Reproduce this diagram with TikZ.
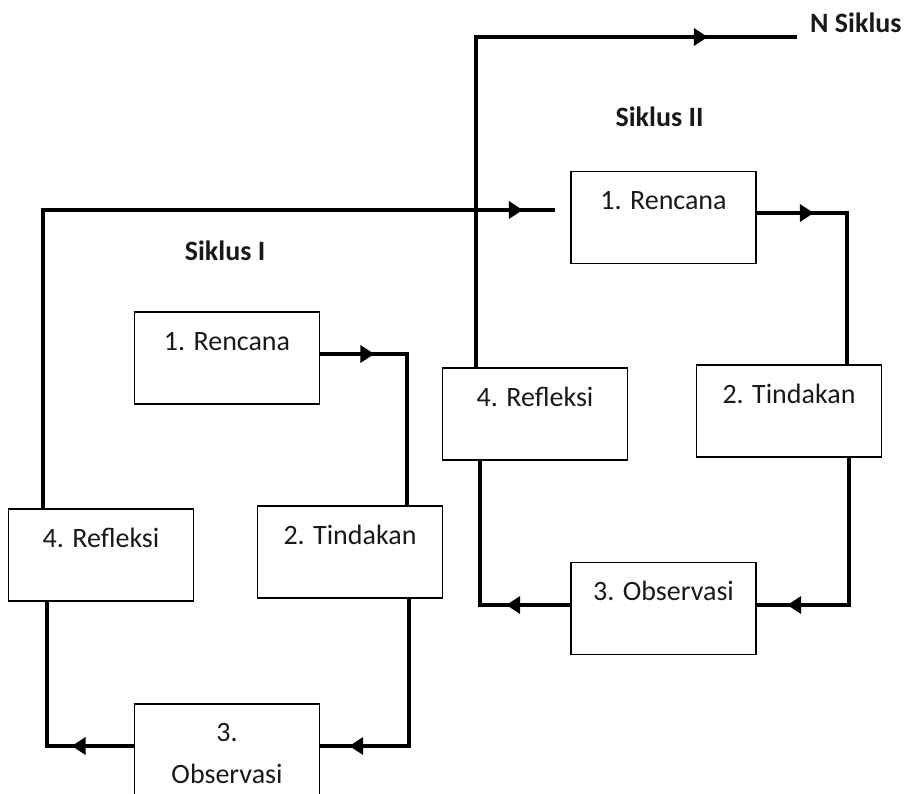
\documentclass[tikz,border=0pt]{standalone}
\usepackage{fontspec}
\setmainfont{Carlito}
\usetikzlibrary{arrows.meta,decorations.markings}
\begin{document}
\begin{tikzpicture}[x=1pt,y=-1pt,
  box/.style={draw=black,line width=1.7pt,minimum width=185pt,minimum height=92pt,inner sep=0pt},
  boxtxt/.style={anchor=north,inner sep=0pt,text height=20pt,text depth=7pt,yshift=-19pt,
    font=\fontsize{28}{41}\selectfont,text=black!90},
  boxtxttwo/.style={anchor=north,inner sep=0pt,yshift=-20pt,
    font=\fontsize{28}{42}\selectfont,align=center,text=black!90},
  titletxt/.style={inner sep=0pt,font=\fontsize{28}{34}\selectfont\bfseries,text=black!90},
  conn/.style={line width=3.8pt},
  arrowat/.style={postaction={decorate,decoration={markings,
    mark=at position #1 with {\arrow{Triangle[length=14pt,width=17pt]}}}}}]
\useasboundingbox (0,0) rectangle (907,794);
\clip (0,0) rectangle (907,794);

% Siklus I boxes
\node[box,label={[boxtxt]north:1. Rencana}] (r1) at (227,358) {};
\node[box,label={[boxtxt]north:2. Tindakan}] (t1) at (350,552) {};
\node[box,label={[boxtxttwo]north:{3.\\Observasi}}] (o1) at (227,750) {};
\node[box,label={[boxtxt]north:4. Refleksi}] (f1) at (101,555) {};

% Siklus II boxes
\node[box,label={[boxtxt]north:1. Rencana}] (r2) at (663.5,217.5) {};
\node[box,label={[boxtxt]north:2. Tindakan}] (t2) at (789,411) {};
\node[box,label={[boxtxt]north:3. Observasi}] (o2) at (663.5,608.5) {};
\node[box,label={[boxtxt]north:4. Refleksi}] (f2) at (535,414) {};

% titles
\node[titletxt,anchor=base] (s1) at (225,261) {Siklus I};
\node[titletxt,anchor=base] (s2) at (659.5,127) {Siklus II};
\node[titletxt,anchor=base west] (sn) at (810,33) {N Siklus};

% corner coordinates
\coordinate (k1) at (43,210);
\coordinate (k1e) at (555,210);
\coordinate (k2) at (407,354);
\coordinate (k3) at (409,746);
\coordinate (k4) at (47,746);
\coordinate (k5) at (847,213);
\coordinate (k6) at (849,605);
\coordinate (k7) at (480,605);
\coordinate (k8) at (476,37);
\coordinate (k8e) at (797,37);

% Siklus I connectors
\draw[conn,arrowat=54pt] (r1.east |- k2) -- (k2) -- (k2 |- t1.north);
\draw[conn,arrowat=207pt] (k3 |- t1.south) -- (k3) -- (o1.east |- k3);
\draw[conn,arrowat=62pt] (o1.west |- k4) -- (k4) -- (k4 |- f1.south);
\draw[conn,arrowat=778pt] (k1 |- f1.north) -- (k1) -- (k1e);

% Siklus II connectors
\draw[conn,arrowat=57pt] (r2.east |- k5) -- (k5) -- (k5 |- t2.north);
\draw[conn,arrowat=209pt] (k6 |- t2.south) -- (k6) -- (o2.east |- k6);
\draw[conn,arrowat=64pt] (o2.west |- k7) -- (k7) -- (k7 |- f2.south);
\draw[conn,arrowat=562pt] (k8 |- f2.north) -- (k8) -- (k8e);
\end{tikzpicture}
\end{document}
